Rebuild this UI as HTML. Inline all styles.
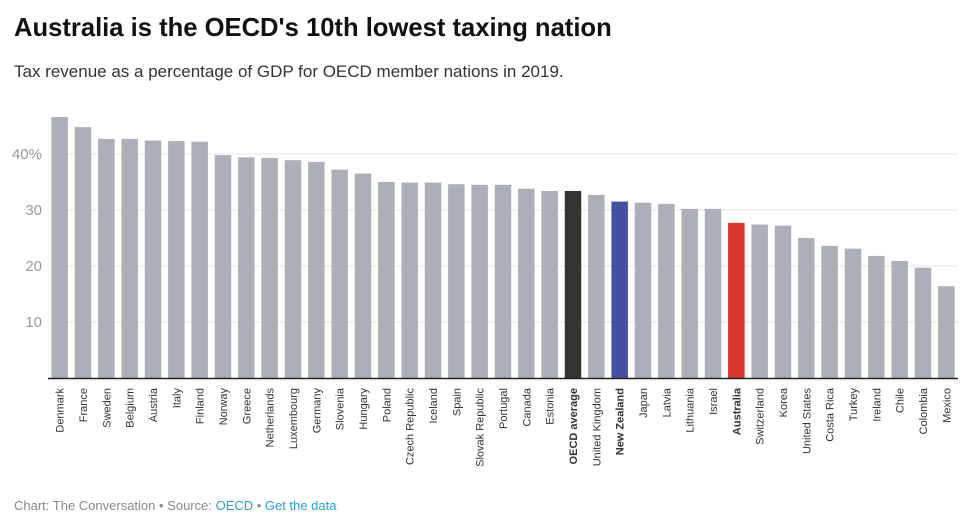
<!DOCTYPE html>
<html><head><meta charset="utf-8"><style>
body{margin:0;width:962px;height:524px;background:#fff;font-family:"Liberation Sans",sans-serif;overflow:hidden}
h1{position:absolute;left:14px;top:14px;margin:0;font-size:25.6px;font-weight:bold;color:#111}
.sub{position:absolute;left:14px;top:62px;font-size:17px;color:#333}
.foot{position:absolute;left:14px;top:498px;font-size:13px;color:#888}
.foot a{color:#2a9fd8;text-decoration:none}
</style></head><body>
<h1>Australia is the OECD's 10th lowest taxing nation</h1>
<div class="sub">Tax revenue as a percentage of GDP for OECD member nations in 2019.</div>
<svg id="chart" width="962" height="524" style="position:absolute;left:0;top:0"></svg>
<div class="foot">Chart: The Conversation • Source: <a>OECD</a> • <a>Get the data</a></div>
<script>
const categories=["Denmark","France","Sweden","Belgium","Austria","Italy","Finland","Norway","Greece","Netherlands","Luxembourg","Germany","Slovenia","Hungary","Poland","Czech Republic","Iceland","Spain","Slovak Republic","Portugal","Canada","Estonia","OECD average","United Kingdom","New Zealand","Japan","Latvia","Lithuania","Israel","Australia","Switzerland","Korea","United States","Costa Rica","Turkey","Ireland","Chile","Colombia","Mexico"];
const values=[46.6,44.8,42.7,42.7,42.4,42.3,42.2,39.8,39.4,39.3,38.9,38.6,37.2,36.5,35.0,34.9,34.9,34.6,34.5,34.5,33.8,33.4,33.4,32.7,31.5,31.3,31.1,30.2,30.2,27.7,27.4,27.2,25.0,23.6,23.1,21.8,20.9,19.7,16.4];
const ticks=[10,20,30,40];
const highlight={"OECD average":"#333333","New Zealand":"#4650a0","Australia":"#d7372c"};
const NS="http://www.w3.org/2000/svg",svg=document.getElementById('chart');
const x0=48,x1=958,y0=378,pxPer=5.6;
const step=(x1-x0)/categories.length;
const y=v=>y0-v*pxPer;
const xc=i=>x0+step*(i+0.5);
function mk(t,a){const e=document.createElementNS(NS,t);for(const k in a)e.setAttribute(k,a[k]);svg.appendChild(e);return e;}
ticks.forEach(t=>{
 const g=mk('line',{x1:50,x2:958,y1:y(t),y2:y(t),stroke:'#e4e4e4','stroke-width':1});
 
 
 const l=mk('text',{x:42,y:y(t)+5,'text-anchor':'end','font-size':15,fill:'#999','font-family':'Liberation Sans, sans-serif'});
 l.textContent=t+(t===40?'%':'');
 
 
});
categories.forEach((c,i)=>{
 const bw=16.5;
 const r=mk('rect',{x:xc(i)-bw/2,y:y(values[i]),width:bw,height:values[i]*pxPer,fill:highlight[c]||'#adafb8'});
 
 
 const t=mk('text',{transform:`translate(${xc(i)+4},388) rotate(-90)`,'text-anchor':'end','font-size':11,fill:'#333','font-weight':highlight[c]?'bold':'normal','font-family':'Liberation Sans, sans-serif'});
 t.textContent=c;
 
 
});
const ax=mk('line',{x1:48,x2:958,y1:y0+0.5,y2:y0+0.5,stroke:'#222','stroke-width':1.5});


</script>
</body></html>
